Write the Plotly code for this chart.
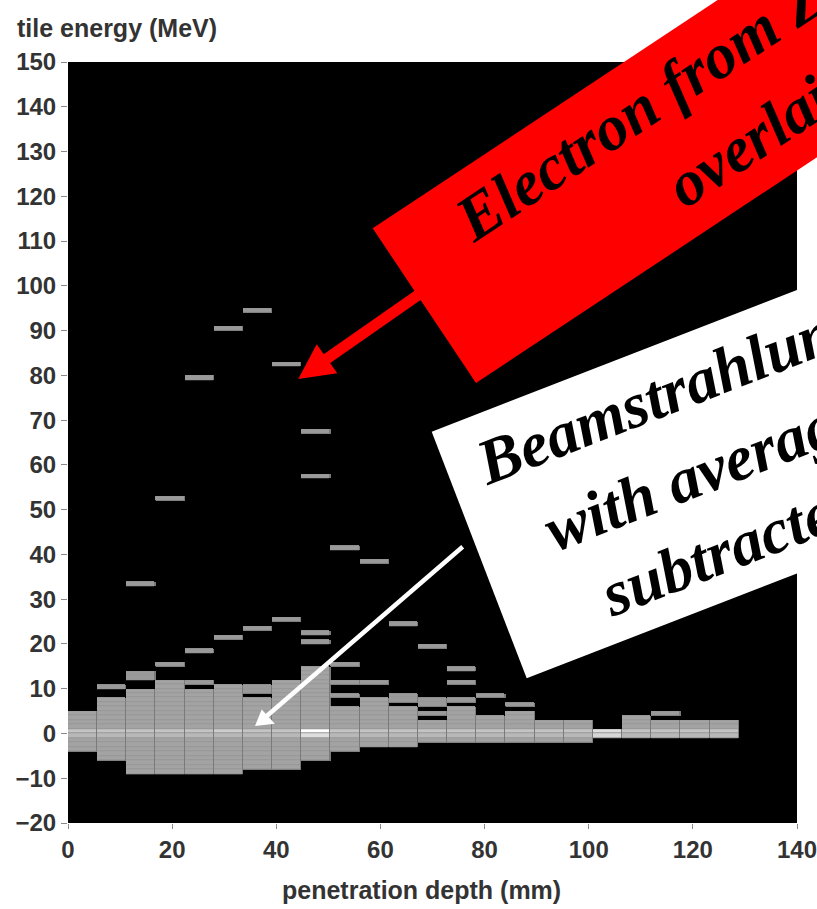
import plotly.graph_objects as go

# ---------------- data ----------------
# x bins: penetration depth (mm), bin centres (bin width 5.6 mm)
depth_bin_centers_mm = [2.8, 8.4, 14.0, 19.6, 25.2, 30.8, 36.4, 42.0, 47.6, 53.2,
                        58.8, 64.4, 70.0, 75.6, 81.2, 86.8, 92.4, 98.0, 103.6,
                        109.2, 114.8, 120.4, 126.0]

# dense core of the shower: lowest and highest filled energy edge (MeV) per depth bin
core_energy_low = [-4, -6, -9, -9, -9, -9, -8, -8, -6, -4, -3, -3, -2, -2, -2, -2,
                   -2, -2, -1, -1, -1, -1, -1]
core_energy_high = [5, 8, 10, 12, 10, 11, 8, 12, 15, 6, 8, 6, 3, 6, 4, 5,
                    3, 3, 1, 4, 3, 3, 3]
core_count = [2, 2, 2, 2, 2, 2, 2, 2, 2, 2, 2, 2, 2, 2, 2, 2, 2, 2, 2, 2, 2, 2, 2]
# brighter band around zero energy
count_bin_0_to_1 = [5, 5, 5, 5, 5, 6, 5, 5, 12, 5, 5, 5, 5, 5, 5, 5, 5, 5, 8, 5, 5, 5, 5]
count_bin_m1_to_0 = [4, 4, 4, 4, 4, 4, 4, 4, 8, 4, 4, 4, 4, 4, 4, 4, 4, 4, 7, 4, 4, 4, 4]

# isolated single-entry tiles: depth bin index and lower energy edge (MeV)
hit_depth_bin = [1, 2, 2, 2, 3, 3, 4, 4, 4, 5, 5, 6, 6, 6, 6, 7, 7, 8, 8, 8, 8,
                 9, 9, 9, 9, 10, 10, 11, 11, 11, 12, 12, 12, 12, 13, 13, 13, 14, 15, 20]
hit_energy_low = [10, 12, 13, 33, 15, 52, 11, 18, 79, 21, 90, 9, 10, 23, 94, 25, 82,
                  20, 22, 57, 67, 8, 11, 15, 41, 11, 38, 7, 8, 24, 4, 6, 7, 19,
                  7, 11, 14, 8, 6, 4]

energy_row_low = list(range(-9, 95))          # 1 MeV energy bins
energy_row_centers = [e + 0.5 for e in energy_row_low]

# ---------------- build histogram grid ----------------
nx = len(depth_bin_centers_mm)
z = [[None] * nx for _ in energy_row_low]
for i in range(nx):
    for e in range(core_energy_low[i], core_energy_high[i]):
        z[e - energy_row_low[0]][i] = core_count[i]
    if core_energy_low[i] <= 0 < core_energy_high[i]:
        z[0 - energy_row_low[0]][i] = count_bin_0_to_1[i]
    if core_energy_low[i] <= -1 < core_energy_high[i]:
        z[-1 - energy_row_low[0]][i] = count_bin_m1_to_0[i]
for b, e in zip(hit_depth_bin, hit_energy_low):
    z[e - energy_row_low[0]][b] = 1
mask = [[(1 if v is not None else None) for v in row] for row in z]

# ---------------- layout helpers ----------------
W, H = 817, 909
L, R, T, B = 68, 797, 62, 823


def px(x):
    return (x - L) / (R - L)


def py(y):
    return (B - y) / (B - T)


def path(points):
    return "M " + " L ".join(f"{px(x):.5f},{py(y):.5f}" for x, y in points) + " Z"


fig = go.Figure()
# dark outline layer (shows through vertical gaps)
fig.add_trace(go.Heatmap(
    x=depth_bin_centers_mm, y=energy_row_centers, z=mask,
    colorscale=[[0, "#7a7a7a"], [1, "#7a7a7a"]], showscale=False, hoverinfo="skip"))
# faint layer (shows through horizontal gaps)
fig.add_trace(go.Heatmap(
    x=depth_bin_centers_mm, y=energy_row_centers, z=mask, xgap=1,
    colorscale=[[0, "#979797"], [1, "#979797"]], showscale=False, hoverinfo="skip"))
# cell colours
fig.add_trace(go.Heatmap(
    x=depth_bin_centers_mm, y=energy_row_centers, z=z, zmin=1, zmax=12,
    colorscale=[[0, "#9a9a9a"], [0.0909, "#a3a3a3"], [0.2727, "#b8b8b8"],
                [0.3636, "#c4c4c4"], [0.5455, "#d6d6d6"], [1, "#ffffff"]],
    xgap=1, ygap=1, showscale=False, hoverinfo="skip"))

tickfont = dict(family="Liberation Sans, Arial, sans-serif", size=24, color="#333333", weight="bold")
fig.update_xaxes(range=[0, 140], tickvals=[0, 20, 40, 60, 80, 100, 120, 140],
                 ticks="outside", ticklen=5, tickcolor="#8a8a8a", tickwidth=1,
                 ticklabeloverflow="allow", automargin=False,
                 showgrid=False, zeroline=False, showline=False, tickfont=tickfont)
fig.update_yaxes(range=[-20, 150], tickvals=list(range(-20, 151, 10)),
                 ticks="outside", ticklen=6, tickcolor="#8a8a8a", tickwidth=1,
                 ticklabeloverflow="allow", automargin=False,
                 showgrid=False, zeroline=False, showline=False, tickfont=tickfont)

shapes = [
    # red call-out box and arrow
    dict(type="path", path=path([(372.7, 228.3), (476, 383), (1143, -58.5), (1039.8, -213.2)]),
         xref="paper", yref="paper", fillcolor="#ff0000", line=dict(width=0)),
    dict(type="line", x0=px(421), y0=py(293), x1=px(325), y1=py(360),
         xref="paper", yref="paper", line=dict(color="#ff0000", width=11)),
    dict(type="path", path=path([(298.3, 379), (316.7, 344.3), (337.3, 373.3)]),
         xref="paper", yref="paper", fillcolor="#ff0000", line=dict(width=0)),
    # white call-out box and arrow
    dict(type="path", path=path([(431.7, 431.7), (526.7, 678.3), (1179.3, 425.2), (1084.3, 178.6)]),
         xref="paper", yref="paper", fillcolor="#ffffff", line=dict(width=0)),
    dict(type="line", x0=px(462.7), y0=py(546.7), x1=px(266.5), y1=py(716.2),
         xref="paper", yref="paper", line=dict(color="#ffffff", width=4.5)),
    dict(type="path", path=path([(255, 726), (261.7, 709.5), (274.8, 723.8)]),
         xref="paper", yref="paper", fillcolor="#ffffff", line=dict(width=0)),
]

serif = dict(family="Liberation Serif, Times New Roman, serif", size=64, color="black",
             weight="bold", style="italic")
title_font = dict(family="Liberation Sans, Arial, sans-serif", size=25, color="#333333", weight="bold")

annotations = [
    dict(text="tile energy (MeV)", x=px(15), y=py(28), xanchor="left", yanchor="middle",
         font=title_font),
    dict(text="penetration depth (mm)", x=px(421), y=py(890), xanchor="center", yanchor="middle",
         font=title_font),
    dict(text="Electron from Z", x=px(640.0), y=py(107.3), textangle=-33.5, font=serif),
    dict(text="overlaid", x=px(762.1), y=py(132.0), textangle=-33.5, font=serif),
    dict(text="Beamstrahlung", x=px(669.6), y=py(391.0), textangle=-21.2, font=serif),
    dict(text="with average", x=px(703.9), y=py(471.9), textangle=-21.2, font=serif),
    dict(text="subtracted", x=px(731.5), y=py(547.1), textangle=-21.2, font=serif),
]
for a in annotations:
    a.update(xref="paper", yref="paper", showarrow=False)
    a.setdefault("xanchor", "center")
    a.setdefault("yanchor", "middle")

fig.update_layout(
    width=W, height=H,
    margin=dict(l=L, r=W - R, t=T, b=H - B, pad=0, autoexpand=False),
    paper_bgcolor="white", plot_bgcolor="black", showlegend=False,
    shapes=shapes, annotations=annotations,
)

fig.write_html("out.html")
